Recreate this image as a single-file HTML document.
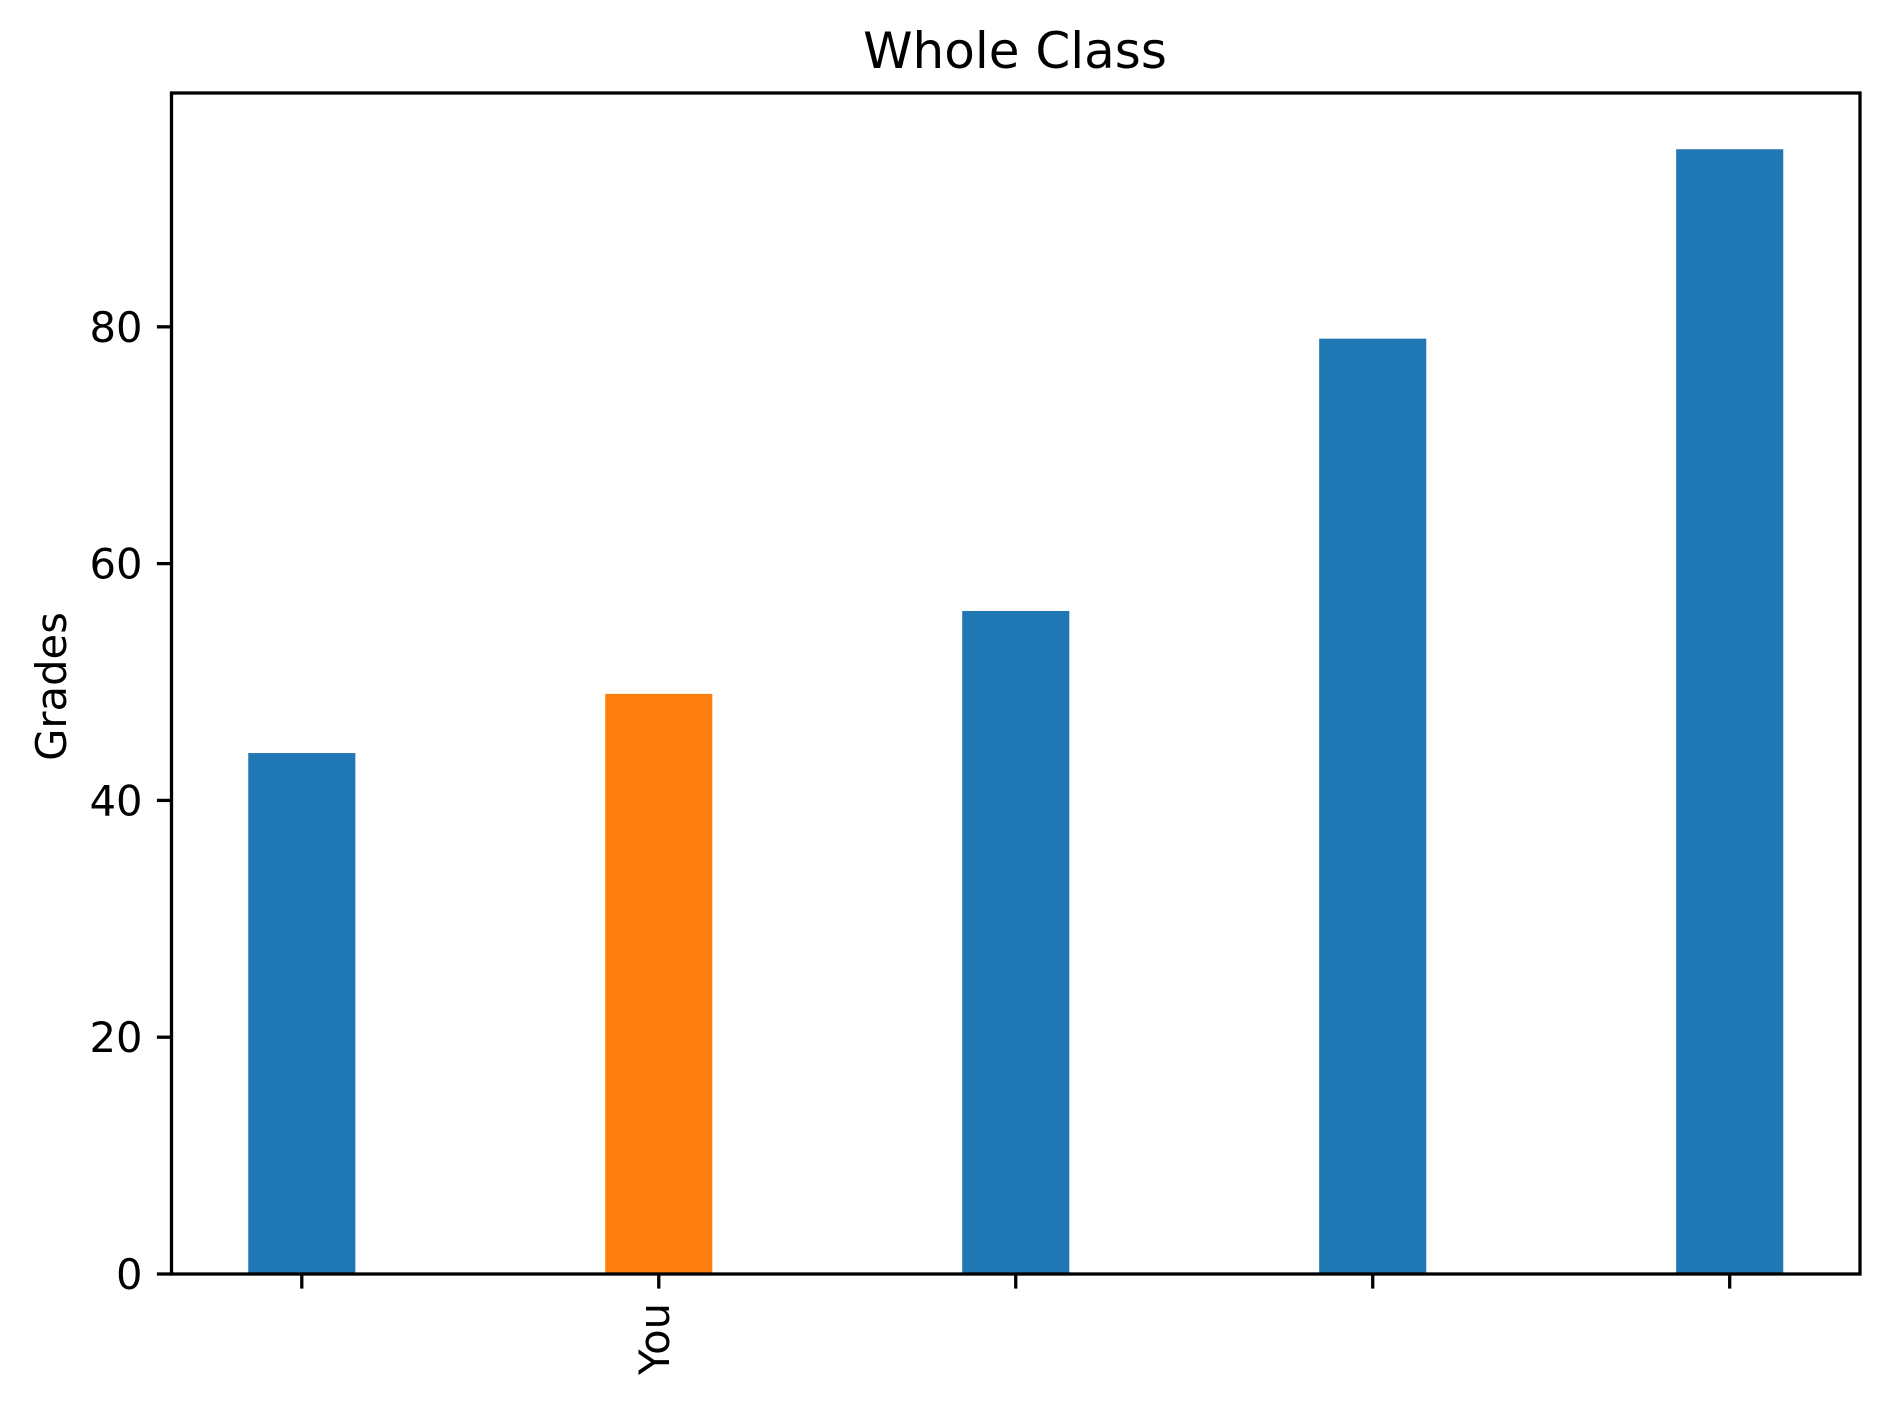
<!DOCTYPE html>
<html><head><meta charset="utf-8"><style>
html,body{margin:0;padding:0;background:#fff;}
svg{display:block;font-family:"DejaVu Sans","Liberation Sans",sans-serif;}
</style></head><body>
<svg id="chart" width="1890" height="1406" viewBox="0 0 1890 1406">
<text x="1015" y="68" font-size="50" text-anchor="middle">Whole Class</text>
<g id="bars"></g>
<g id="yticks"></g>
<g id="xticks"></g>
<rect x="171.5" y="93" width="1688.5" height="1181" fill="none" stroke="#000" stroke-width="3.3"/>
<text transform="translate(66,686.5) rotate(-90)" font-size="41.7" text-anchor="middle">Grades</text>
</svg>
<script>
const categories = ["", "You", "", "", ""];
const grades = [44, 49, 56, 79, 95];
const barColors = ["#1f77b4", "#ff7f0e", "#1f77b4", "#1f77b4", "#1f77b4"];
const yTickValues = [0, 20, 40, 60, 80];

const NS = "http://www.w3.org/2000/svg";
const L = 171.5, R = 1860, T = 93, B = 1274;
const xMin = -0.365, xMax = 4.365, yMin = 0, yMax = 99.75, barW = 0.3;
const xs = v => L + (v - xMin) / (xMax - xMin) * (R - L);
const ys = v => B - (v - yMin) / (yMax - yMin) * (B - T);

const bars = document.getElementById('bars');
grades.forEach((g, i) => {
  const r = document.createElementNS(NS, 'rect');
  r.setAttribute('x', xs(i - barW / 2));
  r.setAttribute('width', xs(i + barW / 2) - xs(i - barW / 2));
  r.setAttribute('y', ys(g));
  r.setAttribute('height', ys(0) - ys(g));
  r.setAttribute('fill', barColors[i]);
  
  
  bars.appendChild(r);
});

const yt = document.getElementById('yticks');
yTickValues.forEach(v => {
  const y = ys(v);
  const l = document.createElementNS(NS, 'line');
  l.setAttribute('x1', L - 14.6); l.setAttribute('x2', L);
  l.setAttribute('y1', y); l.setAttribute('y2', y);
  l.setAttribute('stroke', '#000'); l.setAttribute('stroke-width', '3.3');
  
  
  yt.appendChild(l);
  const t = document.createElementNS(NS, 'text');
  t.setAttribute('x', L - 29); t.setAttribute('y', y + 15);
  t.setAttribute('font-size', '41.7'); t.setAttribute('text-anchor', 'end');
  t.textContent = v;
  
  
  yt.appendChild(t);
});

const xt = document.getElementById('xticks');
categories.forEach((c, i) => {
  const x = xs(i);
  const l = document.createElementNS(NS, 'line');
  l.setAttribute('x1', x); l.setAttribute('x2', x);
  l.setAttribute('y1', B); l.setAttribute('y2', B + 14.6);
  l.setAttribute('stroke', '#000'); l.setAttribute('stroke-width', '3.3');
  
  
  xt.appendChild(l);
  if (c) {
    const t = document.createElementNS(NS, 'text');
    t.setAttribute('transform', 'translate(' + (x + 10) + ',' + (B + 29) + ') rotate(-90)');
    t.setAttribute('font-size', '41.7'); t.setAttribute('text-anchor', 'end');
    t.textContent = c;
    
    
    xt.appendChild(t);
  }
});
</script>
</body></html>
